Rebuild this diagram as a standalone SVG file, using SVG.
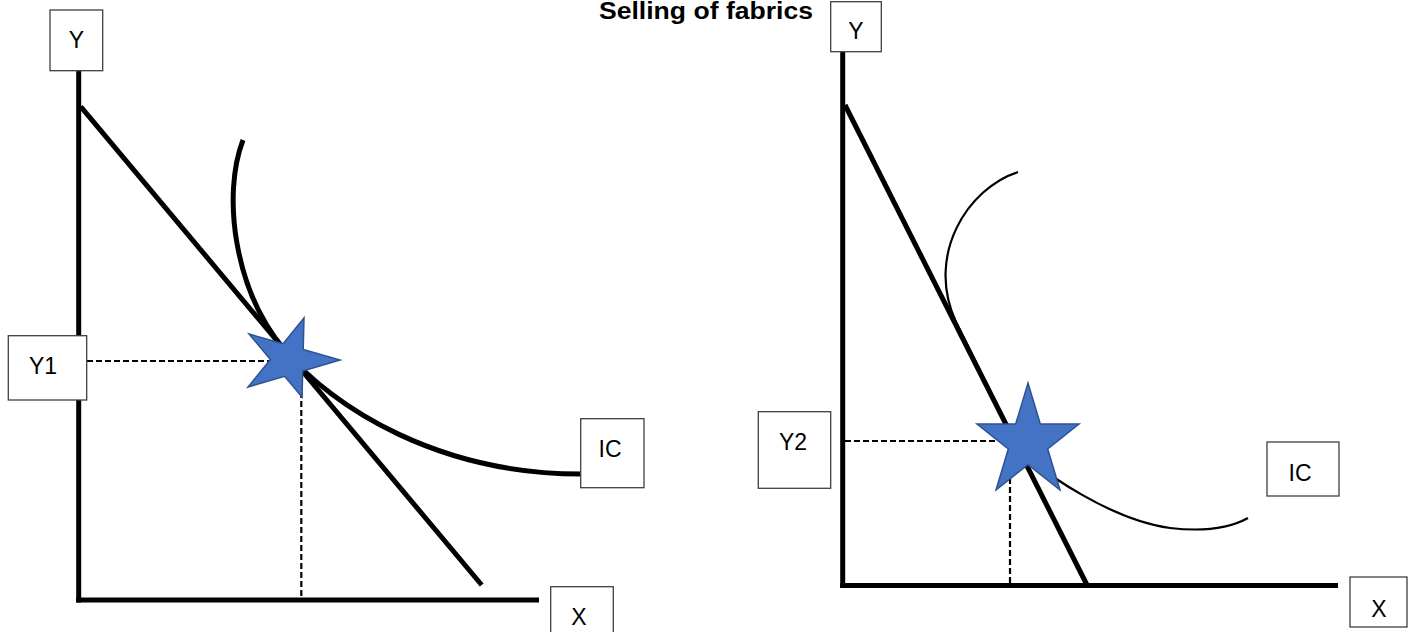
<svg xmlns="http://www.w3.org/2000/svg" width="1414" height="632" viewBox="0 0 1414 632">
  <style>
    .box { fill: #ffffff; stroke: #3f3f3f; stroke-width: 1.3; }
    .lbl { font-family: "Liberation Sans", Arial, sans-serif; font-size: 23px; fill: #000000; text-anchor: middle; }
    .title { font-family: "Liberation Sans", Arial, sans-serif; font-size: 23px; font-weight: bold; fill: #000000; text-anchor: middle; }
    .axis { stroke: #000000; stroke-width: 5; fill: none; }
    .budget { stroke: #000000; stroke-width: 5; fill: none; }
    .ic-thick { stroke: #000000; stroke-width: 5; fill: none; }
    .ic-thin { stroke: #000000; stroke-width: 2.2; fill: none; }
    .guide { stroke: #000000; stroke-width: 2.2; stroke-dasharray: 6 3; fill: none; }
    .star { fill: #4472C4; stroke: #2F528F; stroke-width: 1.5; stroke-linejoin: miter; }
  </style>

  <rect x="0" y="0" width="1414" height="632" fill="#ffffff"/>

  <g id="title">
    <text class="title" x="706" y="19" textLength="214" lengthAdjust="spacingAndGlyphs">Selling of fabrics</text>
  </g>

  <!-- axes, budget lines, indifference curves and guide lines -->
  <g id="connectors">
    <!-- left chart -->
    <line class="axis" x1="78.7" y1="70" x2="78.7" y2="602.5"/>
    <line class="axis" x1="76.2" y1="600" x2="539" y2="600"/>
    <line class="budget" x1="80.7" y1="106.7" x2="481.7" y2="585"/>
    <path class="ic-thick" d="M243,140 C222,195 234,290 284.6,350 C334,409 440,474 580.7,474"/>
    <line class="guide" x1="87" y1="361" x2="272" y2="361"/>
    <line class="guide" x1="301.3" y1="392" x2="301.3" y2="598"/>

    <!-- right chart -->
    <line class="axis" x1="842.7" y1="52" x2="842.7" y2="588"/>
    <line class="axis" x1="840.2" y1="585.5" x2="1338" y2="585.5"/>
    <line class="budget" x1="845" y1="105" x2="1087" y2="585"/>
    <path class="ic-thin" d="M1018,172 C968,188 925,255 956,322 L1022,455 C1045,472 1110,520 1170,528 C1205,532 1230,528 1248,518"/>
    <line class="guide" x1="845" y1="441" x2="1000" y2="441"/>
    <line class="guide" x1="1010" y1="478" x2="1010" y2="584"/>
  </g>

  <g id="equilibrium-left">
    <polygon class="star" points="340,360 302.7,371 302,397 284.6,376.3 248,387 270.4,359.4 249,334 283.1,343.7 304,318 303.2,349.5"/>
  </g>
  <g id="equilibrium-right">
    <polygon class="star" points="1028,383 1040.3,424 1079,424 1047.7,448.9 1060,490 1028,464.6 996,490 1008.3,448.9 977,424 1015.7,424"/>
  </g>

  <g id="label-y-left">
    <rect class="box" x="50" y="10" width="52.7" height="60.7"/>
    <text class="lbl" x="76.5" y="48">Y</text>
  </g>
  <g id="label-y1">
    <rect class="box" x="8.3" y="335.7" width="78.4" height="64.3"/>
    <text class="lbl" x="43" y="374">Y1</text>
  </g>
  <g id="label-ic-left">
    <rect class="box" x="580.7" y="418.7" width="63.3" height="69"/>
    <text class="lbl" x="610" y="457">IC</text>
  </g>
  <g id="label-x-left">
    <rect class="box" x="550.7" y="586.7" width="62.6" height="50"/>
    <text class="lbl" x="579" y="625">X</text>
  </g>

  <g id="label-y-right">
    <rect class="box" x="830.7" y="1.7" width="50.6" height="50"/>
    <text class="lbl" x="856" y="39">Y</text>
  </g>
  <g id="label-y2">
    <rect class="box" x="758.3" y="411.7" width="72.4" height="76.6"/>
    <text class="lbl" x="793" y="450">Y2</text>
  </g>
  <g id="label-ic-right">
    <rect class="box" x="1267" y="442" width="72" height="54"/>
    <text class="lbl" x="1300" y="481">IC</text>
  </g>
  <g id="label-x-right">
    <rect class="box" x="1350" y="577" width="57" height="50"/>
    <text class="lbl" x="1379" y="617">X</text>
  </g>
</svg>
